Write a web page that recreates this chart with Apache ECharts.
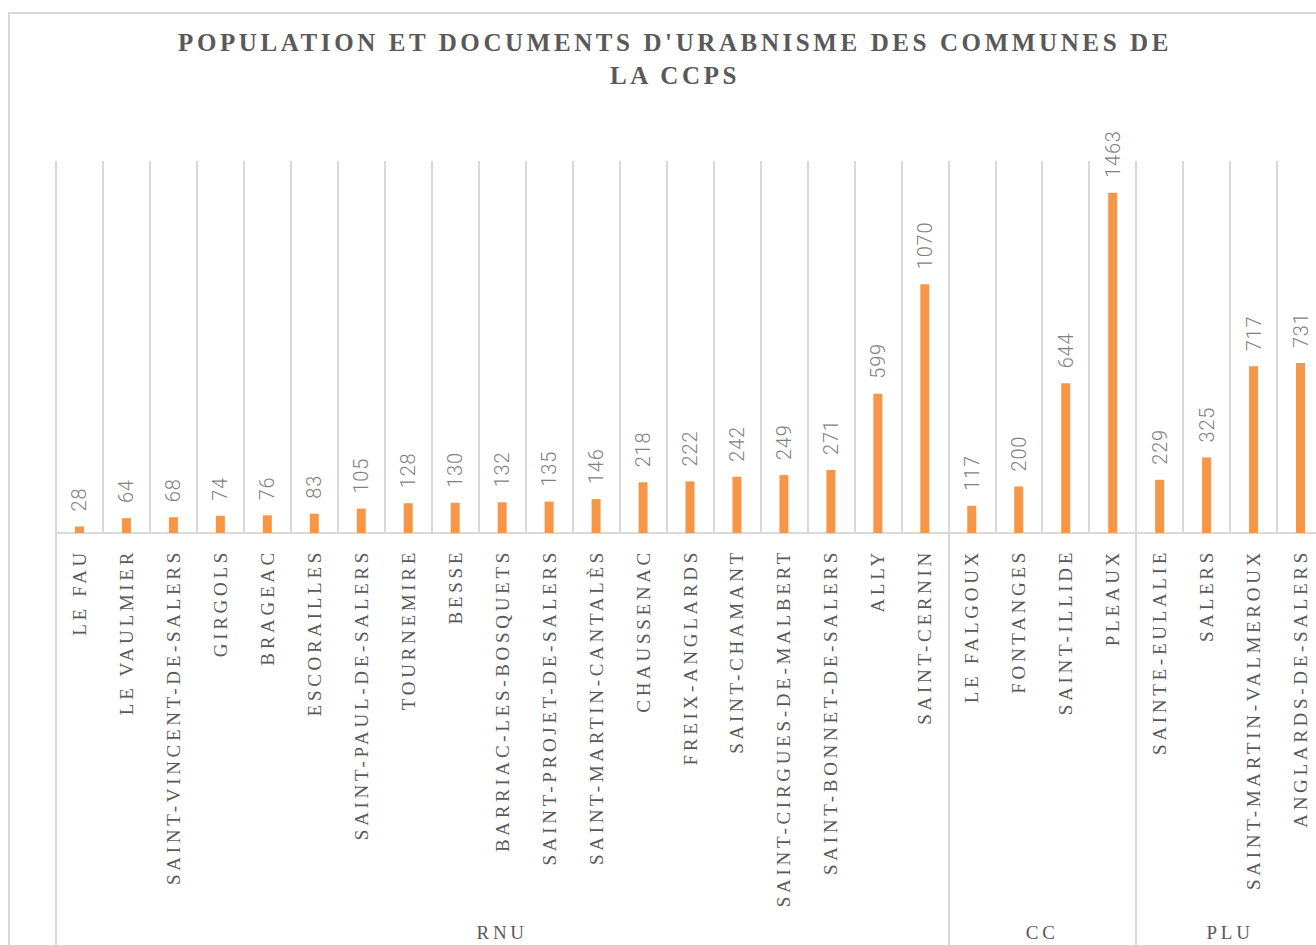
<!DOCTYPE html>
<html lang="fr">
<head>
<meta charset="utf-8">
<title>Population et documents d'urbanisme</title>
<script src="https://cdn.jsdelivr.net/npm/echarts@6/dist/echarts.min.js"></script>
<style>
  html, body {
    margin: 0;
    padding: 0;
    overflow: hidden;
    background: #fff;
  }
  /* cadre gris du graphique (coupé à droite et en bas) */
  .frame {
    position: absolute;
    left: 8px;
    top: 12px;
    width: 2000px;
    height: 2000px;
    border-left: 2px solid #d9d9d9;
    border-top: 2px solid #d9d9d9;
  }
  #chart {
    position: absolute;
    left: 0;
    top: 0;
    width: 1350px;
    height: 945px;
  }
  /* espacement des lettres, comme dans le modèle */
  #chart text[style*="Liberation Serif"] { letter-spacing: 3.7px; }
  #chart text[style*="bold"] { letter-spacing: 3.6px; }
  #chart text[style*="Roboto"] { letter-spacing: 0.8px; }
</style>
</head>
<body>
<div class="frame"></div>
<div id="chart"></div>
<script>
// communes, dans l'ordre du graphique
const communes = [
  'LE FAU', 'LE VAULMIER', 'SAINT-VINCENT-DE-SALERS', 'GIRGOLS', 'BRAGEAC',
  'ESCORAILLES', 'SAINT-PAUL-DE-SALERS', 'TOURNEMIRE', 'BESSE',
  'BARRIAC-LES-BOSQUETS', 'SAINT-PROJET-DE-SALERS', 'SAINT-MARTIN-CANTALÈS',
  'CHAUSSENAC', 'FREIX-ANGLARDS', 'SAINT-CHAMANT', 'SAINT-CIRGUES-DE-MALBERT',
  'SAINT-BONNET-DE-SALERS', 'ALLY', 'SAINT-CERNIN',
  'LE FALGOUX', 'FONTANGES', 'SAINT-ILLIDE', 'PLEAUX',
  'SAINTE-EULALIE', 'SALERS', 'SAINT-MARTIN-VALMEROUX', 'ANGLARDS-DE-SALERS'
];

// population par commune
const population = [
  28, 64, 68, 74, 76, 83, 105, 128, 130, 132, 135, 146, 218, 222, 242, 249, 271, 599, 1070,
  117, 200, 644, 1463,
  229, 325, 717, 731
];

// documents d'urbanisme et nombre de communes dans chaque groupe
const documents = ['RNU', 'CC', 'PLU'];
const documentSizes = [19, 4, 4];

// bornes et milieux des groupes (en nombre de catégories)
const groupBounds = [0];
documentSizes.forEach((n, i) => groupBounds.push(groupBounds[i] + n));
const groupMiddles = documentSizes.map((n, i) => groupBounds[i] + n / 2);

const gray = '#595959';
const lineGray = '#d9d9d9';
const serif = "'Liberation Serif', 'Times New Roman', serif";

const chart = echarts.init(document.getElementById('chart'), null, { renderer: 'svg' });

const option = {
  animation: false,
  title: {
    text: "POPULATION ET DOCUMENTS D'URABNISME DES COMMUNES DE\nLA CCPS",
    left: 'center',
    top: 26,
    padding: 0,
    textStyle: {
      fontFamily: serif,
      fontSize: 25,
      fontWeight: 'bold',
      color: gray,
      lineHeight: 33
    }
  },
  grid: {
    left: 56,
    top: 161,
    width: 1268,
    height: 372,
    containLabel: false
  },
  xAxis: [
    {
      type: 'category',
      data: communes,
      position: 'bottom',
      axisLine: { show: true, lineStyle: { color: lineGray, width: 2 } },
      axisTick: { show: false },
      splitLine: { show: true, lineStyle: { color: lineGray, width: 2 } },
      axisLabel: {
        interval: 0,
        rotate: 90,
        margin: 16,
        color: gray,
        fontFamily: serif,
        fontSize: 19
      }
    },
    {
      // axe des groupes : traits de séparation et noms des documents
      type: 'value',
      min: 0,
      max: communes.length,
      position: 'bottom',
      axisLine: { show: false },
      splitLine: { show: false },
      axisTick: {
        show: true,
        customValues: groupBounds,
        length: 412,
        lineStyle: { color: lineGray, width: 2 }
      },
      axisLabel: {
        customValues: groupMiddles,
        margin: 390,
        color: gray,
        fontFamily: serif,
        fontSize: 19,
        formatter: function (value) {
          const idx = groupMiddles.indexOf(value);
          return idx >= 0 ? documents[idx] : '';
        }
      }
    }
  ],
  yAxis: {
    type: 'value',
    min: 0,
    max: 1600,
    show: false,
    splitLine: { show: false }
  },
  series: [
    {
      name: 'Population',
      type: 'bar',
      xAxisIndex: 0,
      data: population,
      barWidth: 9,
      itemStyle: { color: '#F79646' },
      label: {
        show: true,
        position: 'top',
        distance: 15,
        rotate: 90,
        align: 'left',
        verticalAlign: 'middle',
        color: '#7f7f7f',
        fontFamily: 'Roboto, sans-serif',
        fontWeight: 300,
        fontSize: 20
      }
    }
  ]
};

chart.setOption(option);
</script>
</body>
</html>
